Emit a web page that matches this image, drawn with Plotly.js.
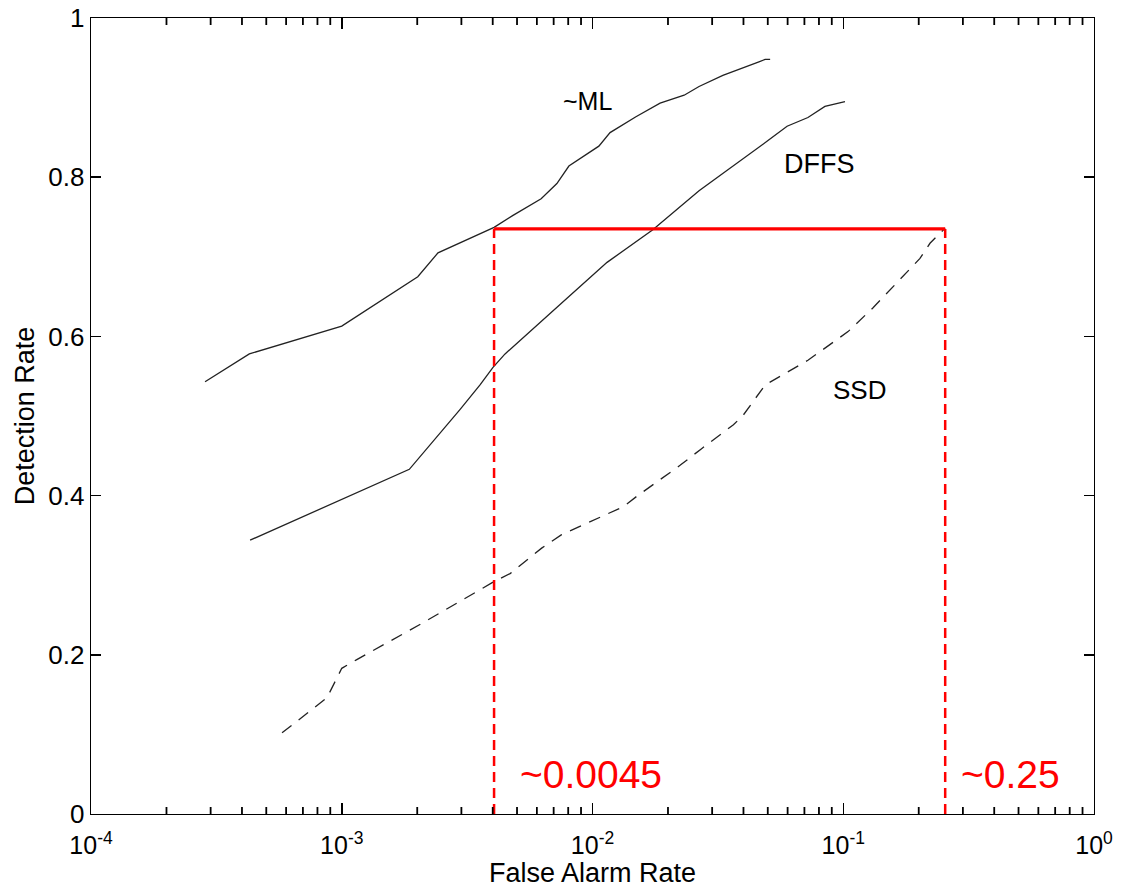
<!DOCTYPE html>
<html>
<head>
<meta charset="utf-8">
<script src="https://cdn.plot.ly/plotly-3.0.1.min.js"></script>
<style>html,body{margin:0;padding:0;background:#fff;}#chart{width:1121px;height:887px;}</style>
</head>
<body>
<div id="chart"></div>
<script>
// ~ML curve
var mlFA = [2.85e-4, 4.28e-4, 1.0e-3, 2.01e-3, 2.42e-3, 4.05e-3, 4.82e-3, 6.24e-3, 7.21e-3, 8.05e-3, 0.0106, 0.01175, 0.0149, 0.0186, 0.0232, 0.0266, 0.0331, 0.0398, 0.0461, 0.0488, 0.0511];
var mlDR = [0.543, 0.578, 0.613, 0.675, 0.705, 0.737, 0.752, 0.773, 0.792, 0.814, 0.839, 0.856, 0.876, 0.893, 0.903, 0.914, 0.928, 0.937, 0.945, 0.948, 0.948];
// DFFS curve
var dffsFA = [4.31e-4, 1.86e-3, 2.96e-3, 3.56e-3, 4.01e-3, 4.48e-3, 7.48e-3, 0.01143, 0.0174, 0.0240, 0.0266, 0.0501, 0.0597, 0.0723, 0.0845, 0.1016];
var dffsDR = [0.344, 0.433, 0.508, 0.539, 0.561, 0.578, 0.641, 0.693, 0.734, 0.771, 0.783, 0.846, 0.864, 0.875, 0.889, 0.895];
// SSD curve
var ssdFA = [5.78e-4, 8.73e-4, 1.0e-3, 1.148e-3, 2.05e-3, 3.56e-3, 4.05e-3, 4.69e-3, 6.27e-3, 7.53e-3, 9.77e-3, 0.01327, 0.0150, 0.01828, 0.02234, 0.02723, 0.03648, 0.0399, 0.0488, 0.0723, 0.1045, 0.1315, 0.1652, 0.2023, 0.2218, 0.2547];
var ssdDR = [0.102, 0.146, 0.183, 0.194, 0.238, 0.282, 0.292, 0.302, 0.334, 0.351, 0.367, 0.386, 0.399, 0.418, 0.438, 0.459, 0.489, 0.501, 0.539, 0.570, 0.606, 0.636, 0.669, 0.698, 0.717, 0.736];
// red highlight
var markFA = [0.00405, 0.255];
var markDR = 0.735;
var markLabels = ['~0.0045', '~0.25'];
// curve labels
var curveNames = ['~ML', 'DFFS', 'SSD'];
var curveLabelFA = [0.00955, 0.0807, 0.1166];
var curveLabelDR = [0.896, 0.817, 0.533];
// ticks
var xTickVals = [1e-4, 1e-3, 1e-2, 1e-1, 1];
var xTickText = ['10<sup>-4</sup>', '10<sup>-3</sup>', '10<sup>-2</sup>', '10<sup>-1</sup>', '10<sup>0</sup>'];
var yTickVals = [0, 0.2, 0.4, 0.6, 0.8, 1];
var yTickText = ['0', '0.2', '0.4', '0.6', '0.8', '1'];
var decades = [1e-4, 1e-3, 1e-2, 1e-1];
var minorMultipliers = [2, 3, 4, 5, 6, 7, 8, 9];
var xTitle = 'False Alarm Rate';
var yTitle = 'Detection Rate';

var W = 1121, H = 887;
var margin = {l: 91, r: 27, t: 18, b: 73};
var plotH = H - margin.t - margin.b;
var minorLenPx = 7;

// minor tick positions (2..9 in every decade)
var xMinorVals = [];
for (var di = 0; di < decades.length; di++) {
  for (var mi = 0; mi < minorMultipliers.length; mi++) {
    xMinorVals.push(decades[di] * minorMultipliers[mi]);
  }
}
var minorLen = minorLenPx / plotH;
var mtX = [], mtY = [];
for (var k = 0; k < xMinorVals.length; k++) {
  var v = xMinorVals[k];
  mtX.push(v, v, null, v, v, null);
  mtY.push(0, minorLen, null, 1, 1 - minorLen, null);
}

var font = 'Liberation Sans, Arial, sans-serif';
var curveColor = '#222';

var traces = [
  {x: mlFA, y: mlDR, mode: 'lines', line: {color: curveColor, width: 1.3}},
  {x: dffsFA, y: dffsDR, mode: 'lines', line: {color: curveColor, width: 1.3}},
  {x: ssdFA, y: ssdDR, mode: 'lines', line: {color: curveColor, width: 1.3, dash: '12px,9px'}},
  {x: [markFA[0], markFA[0]], y: [0, markDR], mode: 'lines', line: {color: '#ff0000', width: 2.5, dash: '10px,6px'}},
  {x: [markFA[1], markFA[1]], y: [0, markDR], mode: 'lines', line: {color: '#ff0000', width: 2.5, dash: '10px,6px'}},
  {x: [markFA[0], markFA[1]], y: [markDR, markDR], mode: 'lines', line: {color: '#ff0000', width: 3.2}},
  {x: mtX, y: mtY, mode: 'lines', connectgaps: false, line: {color: '#000', width: 1.8, simplify: false}, hoverinfo: 'skip', cliponaxis: false}
];

var curveLabelSizes = [25, 27, 26];
var annotations = [];
for (var i = 0; i < curveNames.length; i++) {
  annotations.push({x: Math.log10(curveLabelFA[i]), y: curveLabelDR[i], xref: 'x', yref: 'y', text: curveNames[i], showarrow: false, font: {family: font, size: curveLabelSizes[i], color: '#000'}, xanchor: 'center', yanchor: 'middle'});
}
annotations.push({x: Math.log10(markFA[0]), y: 0.05, xref: 'x', yref: 'y', text: markLabels[0], showarrow: false, font: {family: font, size: 39, color: '#ff0000'}, xanchor: 'left', yanchor: 'middle', xshift: 24});
annotations.push({x: Math.log10(markFA[1]), y: 0.05, xref: 'x', yref: 'y', text: markLabels[1], showarrow: false, font: {family: font, size: 39, color: '#ff0000'}, xanchor: 'left', yanchor: 'middle', xshift: 14});
annotations.push({x: 0.5, y: 0, xref: 'paper', yref: 'paper', yshift: -59, text: xTitle, showarrow: false, font: {family: font, size: 27, color: '#000'}, xanchor: 'center', yanchor: 'middle'});

var layout = {
  width: W, height: H,
  margin: margin,
  paper_bgcolor: '#fff', plot_bgcolor: '#fff',
  showlegend: false,
  font: {family: font, size: 26, color: '#000'},
  xaxis: {
    type: 'log', range: [-4, 0],
    tickmode: 'array', tickvals: xTickVals, ticktext: xTickText,
    ticks: 'inside', ticklen: 11, tickwidth: 1.5, tickcolor: '#000',
    ticklabelstandoff: 9,
    showline: true, linecolor: '#000', linewidth: 1.3, mirror: 'ticks',
    showgrid: false, zeroline: false, automargin: false,
    tickfont: {family: font, size: 25}
  },
  yaxis: {
    range: [0, 1],
    tickvals: yTickVals, ticktext: yTickText,
    ticks: 'inside', ticklen: 10, tickwidth: 1.5, tickcolor: '#000',
    showline: true, linecolor: '#000', linewidth: 1.3, mirror: 'ticks',
    showgrid: false, zeroline: false, automargin: false,
    tickfont: {family: font, size: 26},
    title: {text: yTitle, font: {family: font, size: 27}, standoff: 6}
  },
  annotations: annotations
};

Plotly.newPlot('chart', traces, layout, {displayModeBar: false, staticPlot: true});
</script>
</body>
</html>
